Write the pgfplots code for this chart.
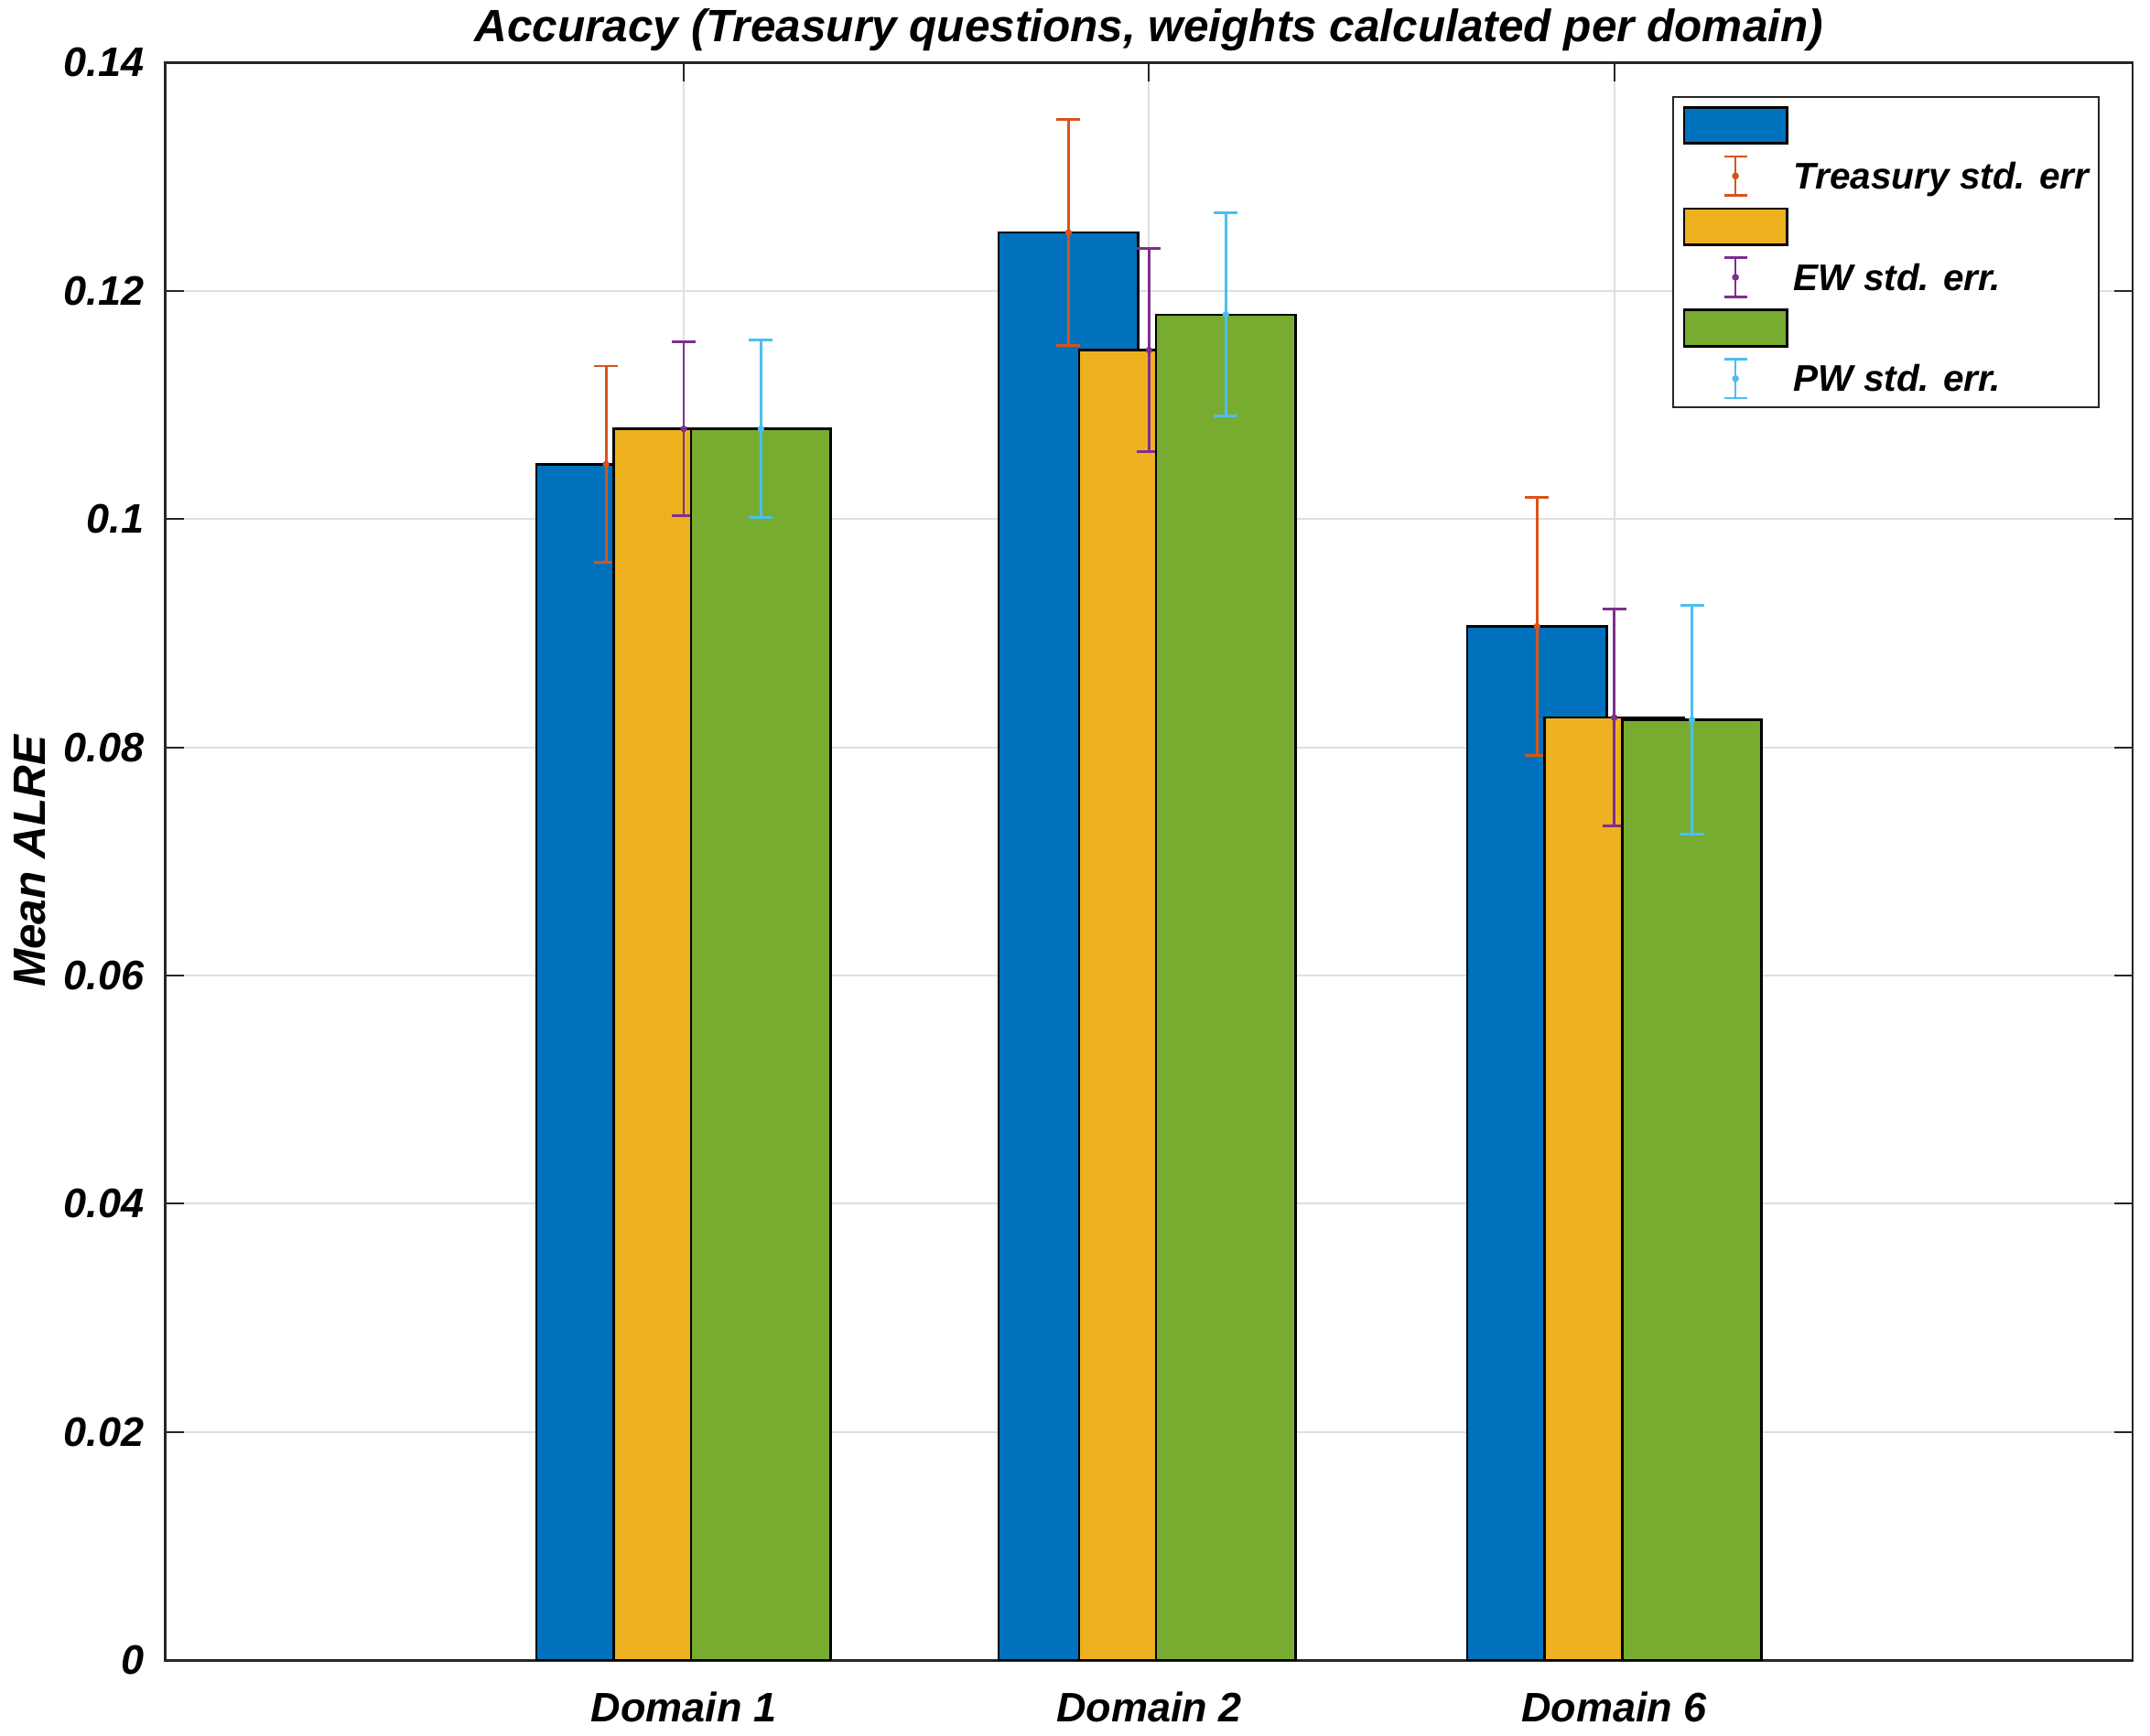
\documentclass[border=0pt]{standalone}
\usepackage{fontspec}
\setmainfont{Liberation Sans}
\usepackage{pgfplots}
\pgfplotsset{compat=1.18}

\definecolor{mblue}{rgb}{0,0.447,0.741}
\definecolor{myellow}{rgb}{0.929,0.694,0.125}
\definecolor{mgreen}{rgb}{0.466,0.674,0.188}
\definecolor{morange}{rgb}{0.85,0.325,0.098}
\definecolor{mpurple}{rgb}{0.494,0.184,0.556}
\definecolor{mcyan}{rgb}{0.301,0.745,0.933}
\definecolor{axgray}{rgb}{0.15,0.15,0.15}

\pgfplotsset{
  barleg/.style={legend image code/.code={\draw[fill=#1,draw=black,line width=0.6pt] (0pt,-4.4pt) rectangle (25pt,4.4pt);}},
  errleg/.style={legend image code/.code={
    \draw[#1,line width=0.6pt] (12.5pt,-4.75pt) -- (12.5pt,4.75pt)
      (9.7pt,-4.75pt) -- (15.3pt,-4.75pt) (9.7pt,4.75pt) -- (15.3pt,4.75pt);
    \fill[#1] (12.5pt,0pt) circle (0.6pt);}},
  bars/.style={ybar, bar width=0.3, bar shift=0pt, fill=#1, draw=black, line width=0.6pt, forget plot},
  errs/.style={color=#1, only marks, mark=*, mark size=0.6pt, forget plot,
    error bars/.cd, y dir=both, y explicit,
    error bar style={line width=0.65pt},
    error mark options={rotate=90, mark size=2.9pt, line width=0.65pt}},
}

\begin{document}
\begin{tikzpicture}
\begin{axis}[
  at={(0,0)}, anchor=south west,
  scale only axis, width=477.6pt, height=388pt,
  xmin=-0.114, xmax=4.114, ymin=0, ymax=0.14,
  xtick={1,2,3}, xticklabels={Domain 1,Domain 2,Domain 6},
  ytick={0,0.02,0.04,0.06,0.08,0.1,0.12,0.14},
  yticklabels={0,0.02,0.04,0.06,0.08,0.1,0.12,0.14},
  font=\fontsize{10}{12}\selectfont\bfseries\itshape,
  tick align=inside, major tick length=4.5pt,
  xtick pos=both, ytick pos=both, xticklabel pos=lower, yticklabel pos=left,
  tick style={axgray, line width=0.45pt},
  axis line style={axgray, line width=0.6pt},
  grid=major, grid style={gray!25, line width=0.45pt},
  xticklabel style={yshift=-4.2pt},
  yticklabel style={xshift=-1.7pt},
  title={Accuracy (Treasury questions, weights calculated per domain)},
  title style={font=\fontsize{11}{13}\selectfont\bfseries\itshape, at={(axis description cs:0.5,1)}, anchor=base, yshift=-1pt},
  ylabel={Mean ALRE},
  ylabel style={font=\fontsize{11}{13}\selectfont\bfseries\itshape, at={(axis description cs:-0.0687,0.5)}, anchor=center},
  legend style={at={(axis description cs:0.9833,0.9789)}, anchor=north east,
    draw=axgray, line width=0.45pt, fill=white,
    inner xsep=2.4pt, inner ysep=0.7pt, column sep=1.3pt, row sep=0pt,
    font=\fontsize{9}{11}\selectfont\bfseries\itshape,
    cells={anchor=west},
    nodes={inner sep=0pt, text height=9.3pt, text depth=3pt}},
]
\addlegendimage{barleg=mblue}\addlegendentry{\phantom{x}}
\addlegendimage{errleg=morange}\addlegendentry{Treasury std. err}
\addlegendimage{barleg=myellow}\addlegendentry{\phantom{x}}
\addlegendimage{errleg=mpurple}\addlegendentry{EW std. err.}
\addlegendimage{barleg=mgreen}\addlegendentry{\phantom{x}}
\addlegendimage{errleg=mcyan}\addlegendentry{PW std. err.}

% Treasury
\addplot[bars=mblue] coordinates {(0.833,0.1048) (1.827,0.1251) (2.834,0.0906)};
\addplot[errs=morange] coordinates {(0.833,0.1048) +- (0,0.0086) (1.827,0.1251) +- (0,0.0099) (2.834,0.0906) +- (0,0.0113)};
% EW
\addplot[bars=myellow] coordinates {(1,0.1079) (2,0.1148) (3,0.0826)};
\addplot[errs=mpurple] coordinates {(1,0.1079) +- (0,0.0076) (2,0.1148) +- (0,0.0089) (3,0.0826) +- (0,0.0095)};
% PW
\addplot[bars=mgreen] coordinates {(1.166,0.1079) (2.165,0.1179) (3.167,0.0824)};
\addplot[errs=mcyan] coordinates {(1.166,0.1079) +- (0,0.0078) (2.165,0.1179) +- (0,0.0089) (3.167,0.0824) +- (0,0.0100)};
\end{axis}
\pgfresetboundingbox
\path[use as bounding box] (-40.16pt,-18.16pt) rectangle (481.84pt,403.17pt);
\end{tikzpicture}
\end{document}
